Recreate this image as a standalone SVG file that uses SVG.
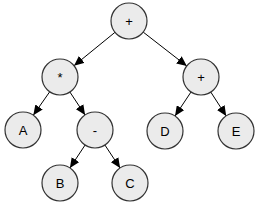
<svg xmlns="http://www.w3.org/2000/svg" width="260" height="207" viewBox="0 0 260 207">
<style>
.n circle{fill:#ebebeb;stroke:#333;stroke-width:1.2}
.n text{font-family:"Liberation Sans",Arial,sans-serif;font-size:13px;fill:#000;text-anchor:middle;dominant-baseline:central}
.e line{stroke:#000;stroke-width:1;marker-end:url(#ah)}
</style>
<defs>
<marker id="ah" markerUnits="userSpaceOnUse" markerWidth="11" markerHeight="9" refX="10" refY="4.5" orient="auto">
<path d="M0,0 L10,4.5 L0,9 Z" fill="#000"/>
</marker>
</defs>
<rect width="260" height="207" fill="#fff"/>
<g id="edges" class="e">
<line x1="115" y1="32.3" x2="74" y2="65.7"/>
<line x1="143.2" y1="32.1" x2="186.8" y2="66"/>
<line x1="49.7" y1="91.8" x2="33.3" y2="115.2"/>
<line x1="69.9" y1="92" x2="85.1" y2="115"/>
<line x1="85.1" y1="145" x2="69.9" y2="168"/>
<line x1="104.9" y1="145" x2="120.1" y2="168"/>
<line x1="191" y1="92" x2="175" y2="116"/>
<line x1="210.8" y1="92.1" x2="226.2" y2="115.9"/>
</g>
<g id="n_root" class="n"><circle cx="129" cy="21" r="18"/><text x="129" y="21">+</text></g>
<g id="n_mul" class="n"><circle cx="60" cy="77" r="18"/><text x="60" y="77">*</text></g>
<g id="n_plus" class="n"><circle cx="201" cy="77" r="18"/><text x="201" y="77">+</text></g>
<g id="n_A" class="n"><circle cx="23" cy="130" r="18"/><text x="23" y="130">A</text></g>
<g id="n_minus" class="n"><circle cx="95" cy="130" r="18"/><text x="95" y="130">-</text></g>
<g id="n_D" class="n"><circle cx="165" cy="131" r="18"/><text x="165" y="131">D</text></g>
<g id="n_E" class="n"><circle cx="236" cy="131" r="18"/><text x="236" y="131">E</text></g>
<g id="n_B" class="n"><circle cx="60" cy="183" r="18"/><text x="60" y="183">B</text></g>
<g id="n_C" class="n"><circle cx="130" cy="183" r="18"/><text x="130" y="183">C</text></g>
</svg>
